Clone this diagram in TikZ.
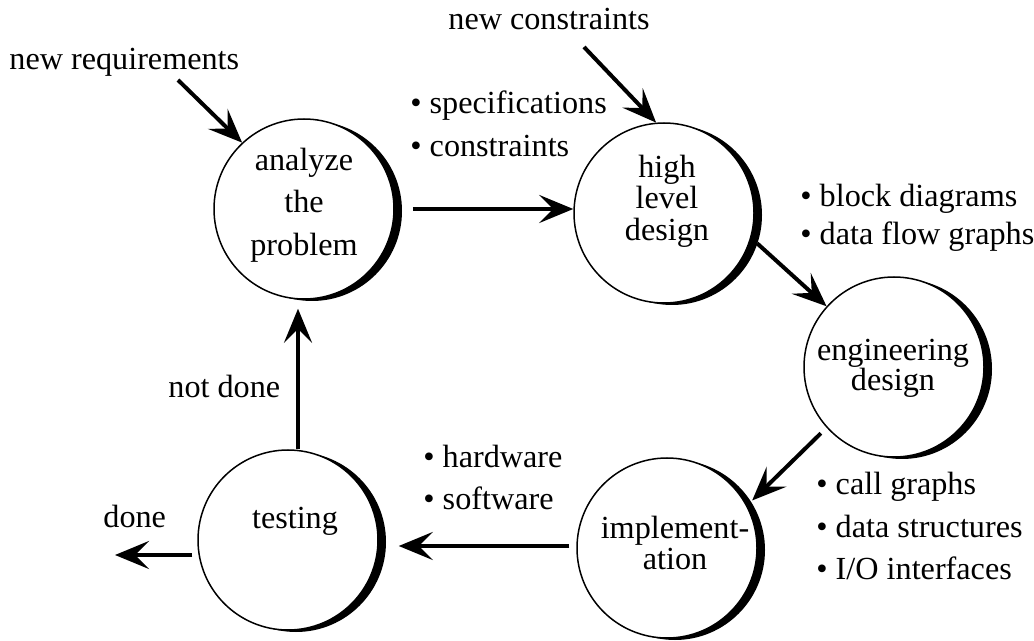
\documentclass[tikz,border=0pt]{standalone}
\usepackage{fontspec}
\setmainfont{Liberation Serif}
\usetikzlibrary{arrows.meta,shadows}
\begin{document}
\begin{tikzpicture}[x=0.5pt,y=-0.5pt,
  circ/.style={circle, draw, line width=0.75pt, minimum size=90pt, inner sep=0pt, fill=white,
    drop shadow={shadow xshift=4pt, shadow yshift=-1pt, opacity=1, fill=black}},
  ctext/.style={inner sep=0pt, align=center, font=\fontsize{16.1}{#1}\selectfont},
  lbl/.style={inner sep=0pt, anchor=base west, font=\fontsize{16.1}{19}\selectfont},
  arr/.style={line width=2pt, -{Stealth[length=17pt,width=14pt,inset=7pt]}}]
\useasboundingbox (0,0) rectangle (1034,641);
% circles
\node[circ] (A) at (304,209) {};
\node[circ] (B) at (664,213) {};
\node[circ] (C) at (894,367) {};
\node[circ] (D) at (667,548) {};
\node[circ] (E) at (288,540) {};
% circle texts
\node[ctext=21.25pt] (At) at (304,205) {analyze\\the\\problem};
\node[ctext=15.75pt] (Bt) at (667,201) {high\\level\\design};
\node[ctext=15pt] (Ct) at (893,368) {engineering\\design};
\node[ctext=15.5pt] (Dt) at (675,543) {implement-\\ation};
\node[ctext=19pt] (Et) at (295,521) {testing};
% labels
\node[lbl] (nr) at (9,70) {new requirements};
\node[lbl] (nc) at (448,30) {new constraints};
\node[lbl] (s1) at (410,114) {• specifications};
\node[lbl] (s2) at (410,157) {• constraints};
\node[lbl] (b1) at (800,207) {• block diagrams};
\node[lbl] (b2) at (800,245) {• data flow graphs};
\node[lbl] (c1) at (816,495) {• call graphs};
\node[lbl] (c2) at (816,538) {• data structures};
\node[lbl] (c3) at (816,580) {• I/O interfaces};
\node[lbl] (h1) at (423,468) {• hardware};
\node[lbl] (h2) at (423,510) {• software};
\node[lbl] (dn) at (103,528) {done};
\node[lbl] (nd) at (168,398) {not done};
% connector end points
\coordinate (nrS) at (178,80);
\coordinate (ncS) at (584,47);
\coordinate (doneE) at (115,555);
% connectors
\draw[arr] (nrS) -- (A.133);
\draw[arr] (ncS) -- (B.95);
\draw[arr, shorten <=9pt] (A.east) -- (A.east -| B.west);
\draw[arr, shorten <=4pt] (B.-16) -- (C.138);
\draw[arr, shorten <=4pt, shorten >=3.5pt] (C.222) -- (D.28);
\draw[arr, shorten <=3.5pt, shorten >=10pt] ([yshift=1pt]D.west) -- ([yshift=1pt]D.west -| E.east);
\draw[arr, shorten <=2.5pt] (E.west |- doneE) -- (doneE);
\draw[arr] ([xshift=5pt]E.north) -- ([xshift=-3pt,yshift=-4.5pt]A.south);
\end{tikzpicture}
\end{document}
